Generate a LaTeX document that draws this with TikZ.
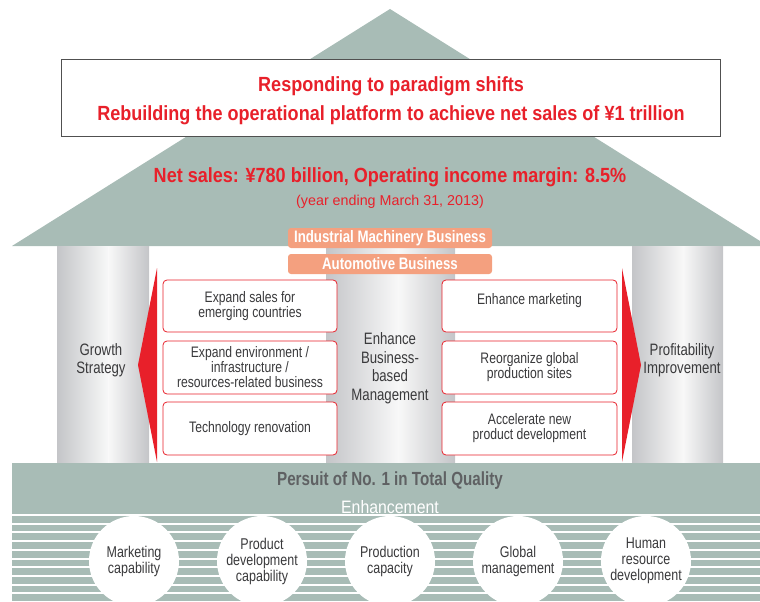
\documentclass[tikz,border=0pt]{standalone}
\usepackage{fontspec}
\setmainfont{Liberation Sans}[FakeStretch=0.8]
\newfontfamily\headfont{Liberation Sans}[FakeStretch=0.88]
\newfontfamily\widefont{Liberation Sans}
\definecolor{roof}{HTML}{A8BCB6}
\definecolor{alert}{HTML}{E8202A}
\definecolor{salmon}{HTML}{F4A07F}
\definecolor{ink}{HTML}{3A3A3C}
\definecolor{stone}{HTML}{C4C5C8}
\definecolor{shine}{HTML}{F8F8F8}
\definecolor{quality}{HTML}{5F6163}
\definecolor{frame}{HTML}{505050}
\tikzstyle{headline} = [text=alert, font=\headfont\fontsize{20.5}{22}\selectfont\bfseries]
\tikzstyle{bizbox} = [fill=salmon, rounded corners=3pt, minimum width=204pt, minimum height=20pt, inner sep=0pt, text=white, font=\fontsize{16.6}{17}\selectfont\bfseries]
\tikzstyle{measure} = [draw=alert, line width=0.8pt, fill=white, rounded corners=4pt, minimum width=174pt, minimum height=52pt, inner sep=0pt, text=ink, align=center, font=\fontsize{15.2}{15}\selectfont]
\tikzstyle{pillartext} = [text=ink, align=center, font=\fontsize{16.5}{18.5}\selectfont]
\tikzstyle{skill} = [circle, fill=white, minimum size=90pt, inner sep=0pt, text=ink, align=center, font=\fontsize{15.6}{16}\selectfont]

\begin{document}
\begin{tikzpicture}[x=1pt, y=-1pt]
  \clip (0,0) rectangle (760,602);
  % roof
  \fill [roof] (12,246) -- (390,9) -- (768,246) -- cycle;
  \node (goal) at (391,98) [draw=frame, line width=1pt, fill=white, minimum width=659pt, minimum height=76pt] {};
  \node (shifts) at (391,86) [headline] {Responding to paradigm shifts};
  \node (rebuild) at (391,115) [headline] {Rebuilding the operational platform to achieve net sales of ¥1 trillion};
  \node (sales) at (390,177) [headline] {Net sales: ¥780 billion, Operating income margin: 8.5\%};
  \node (year) at (390,202) [text=alert, font=\widefont\fontsize{14.3}{15}\selectfont] {(year ending March 31, 2013)};

  % pillars, light strip a bit right of the middle
  \foreach \a/\b in {57/149, 326/455, 632/723} {
    \shade [left color=stone, right color=shine] (\a,246) rectangle ({\a+0.56*(\b-\a)},463);
    \shade [left color=shine, right color=stone] ({\a+0.56*(\b-\a)},246) rectangle (\b,463);
  }
  \node (growth) at (101,360) [pillartext] {Growth\\Strategy};
  \node (core) at (390,368) [pillartext] {Enhance\\Business-\\based\\Management};
  \node (profit) at (682,360) [pillartext] {Profitability\\Improvement};

  \node (machinery) at (390,238) [bizbox] {Industrial Machinery Business};
  \node (auto) at (390,264) [bizbox] {Automotive Business};

  % red arrows
  \fill [alert] (157,268) -- (138,365) -- (157,462) -- cycle;
  \fill [alert] (622,268) -- (641,365) -- (622,462) -- cycle;

  \node (g1) at (250,306) [measure] {Expand sales for\\emerging countries};
  \node (g2) at (250,367.5) [measure, minimum height=53pt] {Expand environment /\\infrastructure /\\resources-related business};
  \node (g3) at (250,428.5) [measure, minimum height=53pt] {Technology renovation};
  \node (p1) at (529.5,306) [measure, minimum width=175pt] {Enhance marketing\\\mbox{}};
  \node (p2) at (529.5,367.5) [measure, minimum width=175pt, minimum height=53pt] {Reorganize global\\production sites};
  \node (p3) at (529.5,428.5) [measure, minimum width=175pt, minimum height=53pt] {Accelerate new\\product development};

  % foundation
  \fill [roof] (12,463) rectangle (760,602);
  \node (tq) at (390,481) [text=quality, font=\fontsize{19}{20}\selectfont\bfseries] {Persuit of No. 1 in Total Quality};
  \node (enh) at (390,507) [text=white, font=\headfont\fontsize{18}{19}\selectfont] {Enhancement};
  \foreach \k in {0,...,10}
    \draw [white, line width=2pt] (12,{515+8.7*\k}) -- (760,{515+8.7*\k});

  \node (c1) at (134,561) [skill] {Marketing\\capability};
  \node (c2) at (262,561) [skill] {Product\\development\\capability};
  \node (c3) at (390,561) [skill] {Production\\capacity};
  \node (c4) at (518,561) [skill] {Global\\management};
  \node (c5) at (646,561) [skill] {Human\\resource\\development};
\end{tikzpicture}
\end{document}
